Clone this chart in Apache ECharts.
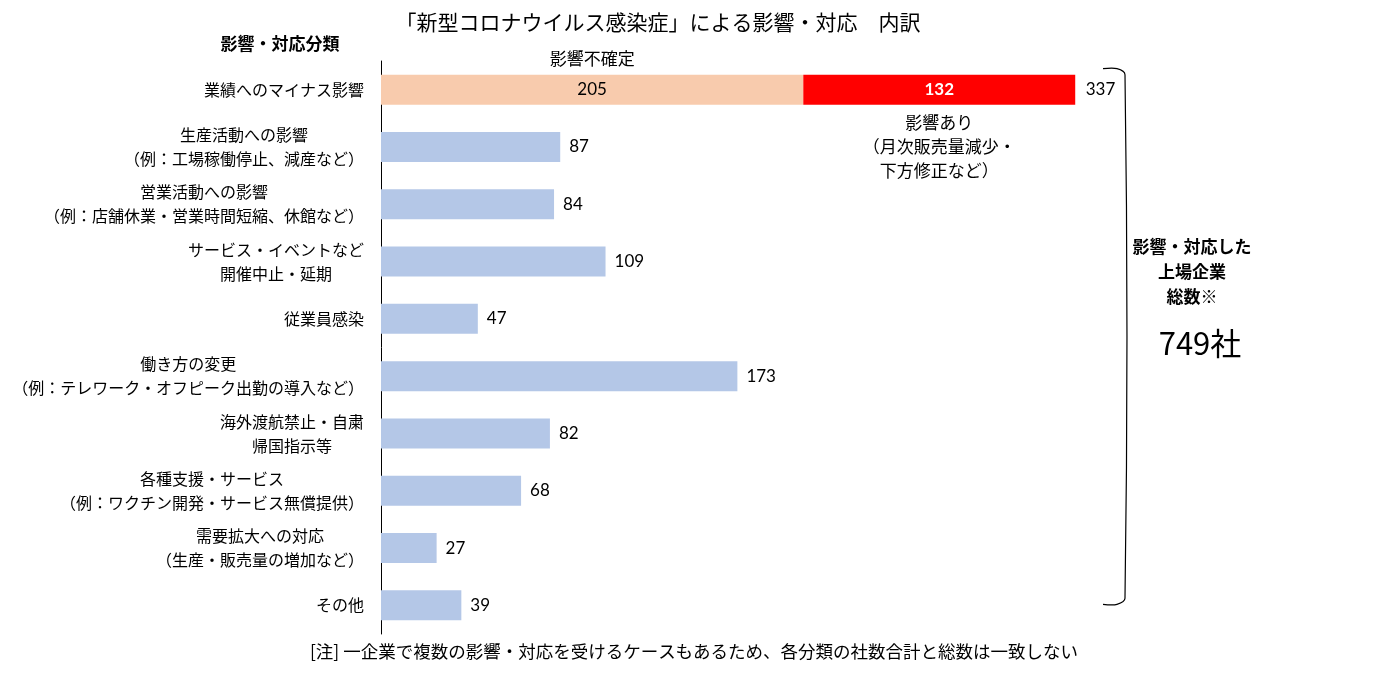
<!DOCTYPE html>
<html><head><meta charset="utf-8">
<script src="https://cdn.jsdelivr.net/npm/echarts@6/dist/echarts.min.js"></script>
<style>html,body{margin:0;padding:0;background:#fff}#c{width:1375px;height:673px}</style>
</head><body><div id="c"></div>
<script>
var categories = [
  '業績へのマイナス影響',
  '生産活動への影響\n（例：工場稼働停止、減産など）',
  '営業活動への影響\n（例：店舗休業・営業時間短縮、休館など）',
  'サービス・イベントなど\n開催中止・延期',
  '従業員感染',
  '働き方の変更\n（例：テレワーク・オフピーク出勤の導入など）',
  '海外渡航禁止・自粛\n帰国指示等',
  '各種支援・サービス\n（例：ワクチン開発・サービス無償提供）',
  '需要拡大への対応\n（生産・販売量の増加など）',
  'その他'
];
var otherValues = ['-', 87, 84, 109, 47, 173, 82, 68, 27, 39];
var uncertainValues = [205, '-', '-', '-', '-', '-', '-', '-', '-', '-'];
var affectedValues = [132, '-', '-', '-', '-', '-', '-', '-', '-', '-'];
var totalValues = [337];
var totalCompanies = '749社';

var JP = '"Noto Sans CJK JP", sans-serif';
var NUM = 'Lato, "Noto Sans CJK JP", sans-serif';
var chart = echarts.init(document.getElementById('c'));
var totalData = totalValues.map(function (v, i) { return [v, i]; });
chart.setOption({
  animation: false,
  title: {
    text: '「新型コロナウイルス感染症」による影響・対応　内訳',
    left: 653, top: 7, textAlign: 'center',
    textStyle: { fontFamily: JP, fontSize: 21, fontWeight: 'normal', color: '#000' }
  },
  grid: { left: 381, top: 61, width: 824, height: 573, containLabel: false },
  xAxis: { type: 'value', min: 0, max: 400, show: false },
  yAxis: {
    type: 'category', data: categories, inverse: true,
    axisLine: { lineStyle: { color: '#000', width: 1 } },
    axisTick: { show: false },
    axisLabel: {
      margin: 17, align: 'right', color: '#000', fontFamily: JP, fontSize: 16,
      formatter: function (v) {
        return v.split('\n').map(function (l) { return '{c|' + l + '}'; }).join('\n');
      },
      rich: { c: { align: 'center', fontFamily: JP, fontSize: 16, color: '#000', lineHeight: 24 } }
    }
  },
  series: [
    {
      name: 'other', type: 'bar', stack: 's', data: otherValues, barWidth: 30,
      itemStyle: { color: '#B4C7E7' },
      label: { show: true, position: 'right', distance: 9, color: '#000', fontFamily: NUM, fontSize: 17 }
    },
    {
      name: '影響不確定', type: 'bar', stack: 's', data: uncertainValues, barWidth: 30,
      itemStyle: { color: '#F8CBAD' },
      label: { show: true, position: 'inside', color: '#000', fontFamily: NUM, fontSize: 17 }
    },
    {
      name: '影響あり', type: 'bar', stack: 's', data: affectedValues, barWidth: 30,
      itemStyle: { color: '#FF0000' },
      label: { show: true, position: 'inside', color: '#fff', fontFamily: NUM, fontSize: 17, fontWeight: 'bold' }
    },
    {
      name: 'total', type: 'scatter', data: totalData, symbolSize: 1,
      itemStyle: { color: 'rgba(0,0,0,0)', opacity: 1 },
      label: { show: true, position: 'right', distance: 10, formatter: function (p) { return p.value[0]; },
        color: '#000', opacity: 1, fontFamily: NUM, fontSize: 17 }
    }
  ]
});

var top0 = chart.convertToPixel({ gridIndex: 0 }, [0, 0]);
var last = chart.convertToPixel({ gridIndex: 0 }, [0, categories.length - 1]);
var unc = chart.convertToPixel({ gridIndex: 0 }, [uncertainValues[0] / 2, 0]);
var aff = chart.convertToPixel({ gridIndex: 0 }, [uncertainValues[0] + affectedValues[0] * 0.5, 0]);
var bx = 1103, by0 = top0[1] - 21, by1 = last[1] - 1;
chart.setOption({
  graphic: [
    { type: 'text', x: 280, y: 44, style: { text: '影響・対応分類', font: 'bold 17px ' + JP, fill: '#000', align: 'center', verticalAlign: 'middle' } },
    { type: 'text', x: unc[0], y: top0[1] - 31, style: { text: '影響不確定', font: '17px ' + JP, fill: '#000', align: 'center', verticalAlign: 'middle' } },
    { type: 'text', x: aff[0], y: top0[1] + 21, style: { text: '影響あり\n（月次販売量減少・\n下方修正など）', font: '17px ' + JP, fill: '#000', align: 'center', verticalAlign: 'top', lineHeight: 24 } },
    { type: 'polyline', shape: { points: [[bx, by0], [bx + 14, by0], [bx + 22, by0 + 6], [bx + 22, by1 - 6], [bx + 14, by1], [bx, by1]], smooth: 0.3 },
      style: { stroke: '#000', lineWidth: 1.2, fill: null } },
    { type: 'text', x: 1192, y: 234, style: { text: '影響・対応した\n上場企業\n総数※', font: 'bold 17px ' + JP, fill: '#000', align: 'center', verticalAlign: 'top', lineHeight: 25 } },
    { type: 'text', x: 1200, y: 343, style: { text: totalCompanies, font: '31px ' + JP, fill: '#000', align: 'center', verticalAlign: 'middle' } },
    { type: 'text', x: 694, y: 651, style: { text: '[注] 一企業で複数の影響・対応を受けるケースもあるため、各分類の社数合計と総数は一致しない', font: '17.5px ' + JP, fill: '#000', align: 'center', verticalAlign: 'middle' } }
  ]
});
</script></body></html>
